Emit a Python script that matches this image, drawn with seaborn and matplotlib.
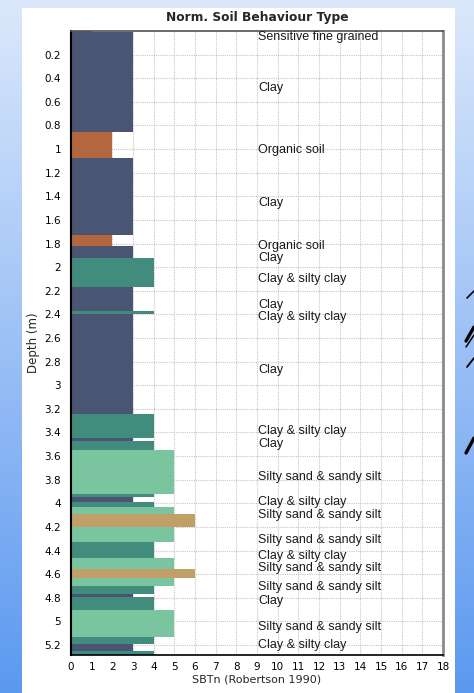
import numpy as np
import pandas as pd
import matplotlib
matplotlib.use("Agg")
import matplotlib.pyplot as plt
from matplotlib.ticker import MultipleLocator, FuncFormatter
from matplotlib.lines import Line2D
from matplotlib.patches import Rectangle
import seaborn as sns

# Layer boundaries (m) of the interpreted CPT profile
depth_edges = [0.00, 0.01, 0.855, 1.075, 1.725, 1.82, 1.92, 2.17, 2.375, 2.395,
               3.24, 3.45, 3.47, 3.55, 3.92, 3.95, 3.99, 4.03, 4.09, 4.20,
               4.33, 4.465, 4.56, 4.635, 4.70, 4.77, 4.79, 4.90, 5.135, 5.195,
               5.25, 5.30]
# SBTn zone of each layer
sbtn_zone = [1, 3, 2, 3, 2, 3, 4, 3, 4, 3,
             4, 3, 4, 5, 4, 3, 4, 5, 6, 5,
             4, 5, 6, 5, 4, 3, 4, 5, 4, 3,
             4]

zone_names = {1: "Sensitive fine grained", 2: "Organic soil", 3: "Clay",
              4: "Clay & silty clay", 5: "Silty sand & sandy silt",
              6: "Clean sand to silty sand"}
zone_colors = {1: "#e23a33", 2: "#b4673e", 3: "#4a5574", 4: "#428c7e",
               5: "#7bc4a0", 6: "#c0a066"}

# Description labels and the depth (m) they are written at
label_text = ["Sensitive fine grained", "Clay", "Organic soil", "Clay",
              "Organic soil", "Clay", "Clay & silty clay", "Clay",
              "Clay & silty clay", "Clay", "Clay & silty clay", "Clay",
              "Silty sand & sandy silt", "Clay & silty clay",
              "Silty sand & sandy silt", "Silty sand & sandy silt",
              "Clay & silty clay", "Silty sand & sandy silt",
              "Silty sand & sandy silt", "Clay", "Silty sand & sandy silt",
              "Clay & silty clay"]
label_depth = [0.05, 0.48, 1.01, 1.46, 1.82, 1.92, 2.10, 2.32, 2.42, 2.87,
               3.39, 3.50, 3.78, 3.99, 4.10, 4.31, 4.45, 4.55, 4.71, 4.83,
               5.05, 5.20]

depth_ticks = [0.2, 0.4, 0.6, 0.8, 1.0, 1.2, 1.4, 1.6, 1.8, 2.0, 2.2, 2.4, 2.6,
               2.8, 3.0, 3.2, 3.4, 3.6, 3.8, 4.0, 4.2, 4.4, 4.6, 4.8, 5.0, 5.2]
sbtn_ticks = list(range(0, 19))

sns.set_style("white")
plt.rcParams["font.family"] = ["DejaVu Sans"]

W, H = 474, 693
fig = plt.figure(figsize=(W / 100, H / 100), dpi=100)

# slide background: vertical blue gradient, white panel, a few slashes
bg = fig.add_axes([0, 0, 1, 1], zorder=-10)
top_c = np.array([0.86, 0.91, 0.985])
bot_c = np.array([0.36, 0.60, 0.94])
t = np.linspace(0, 1, 256)[:, None]
grad = top_c[None, :] * (1 - t) + bot_c[None, :] * t
bg.imshow(grad[:, None, :], aspect="auto", extent=[0, 1, 0, 1], origin="upper")
bg.set_axis_off()
fig.patches.append(Rectangle((22 / W, 0), (455 - 22) / W, (H - 8) / H,
                             transform=fig.transFigure, facecolor="white",
                             edgecolor="none", zorder=-5))
for (x0, y0, x1, y1, lw) in [(467, 298, 474, 291, 1.2), (466, 341, 474, 327, 2.4),
                              (466, 347, 474, 335, 1.1), (467, 367, 474, 358, 1.3),
                              (466, 453, 474, 438, 2.4)]:
    fig.lines.append(Line2D([x0 / W, x1 / W], [1 - y0 / H, 1 - y1 / H],
                            transform=fig.transFigure, color="black", lw=lw,
                            zorder=-4))

ax = fig.add_axes([71 / W, 1 - 655 / H, (443 - 71) / W, (655 - 31) / H])
ax.set_facecolor("white")

edges = np.array(depth_edges)
df = pd.DataFrame({
    "mid": (edges[:-1] + edges[1:]) / 2,
    "sbtn": sbtn_zone,
    "zone": [zone_names[z] for z in sbtn_zone],
})
palette = {zone_names[k]: v for k, v in zone_colors.items()}
sns.histplot(data=df, y="mid", weights="sbtn", hue="zone", bins=depth_edges,
             multiple="layer", palette=palette, alpha=1, linewidth=0,
             legend=False, ax=ax, zorder=2)

for txt, d in zip(label_text, label_depth):
    ax.text(9.05, d, txt, ha="left", va="center", fontsize=9,
            family=["Liberation Sans", "DejaVu Sans"], color="#1a1a1a", zorder=3)

ax.set_xlim(0, 18)
ax.set_ylim(5.285, 0)
ax.set_xticks(sbtn_ticks)
ax.xaxis.set_minor_locator(MultipleLocator(0.5))
ax.set_yticks(depth_ticks)
ax.yaxis.set_major_formatter(FuncFormatter(lambda v, p: f"{v:g}"))
ax.tick_params(axis="x", which="major", direction="in", length=4, width=1,
               labelsize=7.5, pad=5, colors="black")
ax.tick_params(axis="x", which="minor", direction="in", length=2, width=1)
ax.tick_params(axis="y", which="major", direction="out", length=5, width=1,
               labelsize=7.5, pad=2, colors="black")
ax.set_axisbelow(True)
ax.grid(True, which="major", color="#c6c6c6", linestyle=(0, (1, 1)), linewidth=0.8)

ax.set_xlabel("SBTn (Robertson 1990)", fontsize=8, labelpad=2)
ax.set_ylabel("Depth (m)", fontsize=8.5, labelpad=3.5)

for side, col, lw in [("left", "black", 1.5), ("bottom", "black", 1.2),
                      ("right", "#8a8a8a", 2.0), ("top", "#505050", 1.2)]:
    ax.spines[side].set_visible(True)
    ax.spines[side].set_color(col)
    ax.spines[side].set_linewidth(lw)

fig.text((71 + 443) / 2 / W, 1 - 17 / H, "Norm. Soil Behaviour Type",
         ha="center", va="center", fontsize=8.8, fontweight="bold")

fig.savefig("out.png", dpi=100)
